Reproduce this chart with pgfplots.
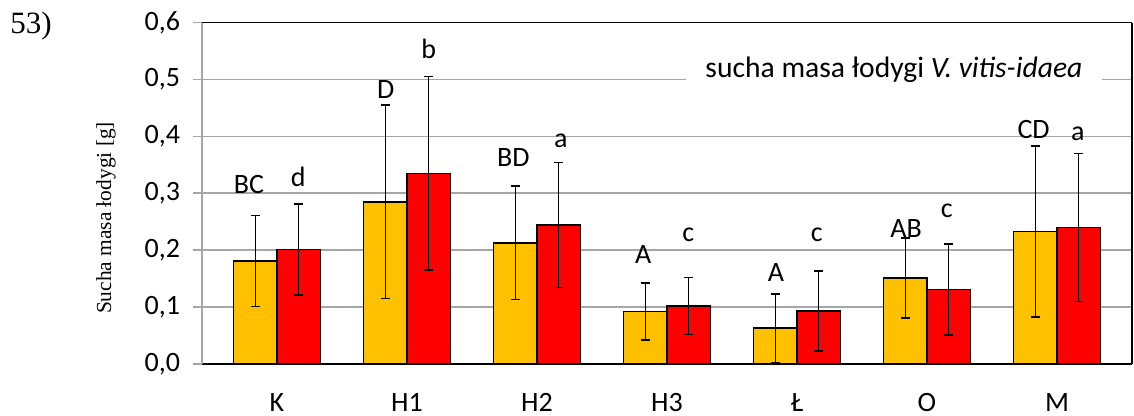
\documentclass[border=0pt]{standalone}
\usepackage{pgfplots}
\pgfplotsset{compat=1.18}
\usepackage{pgfplotstable}
\usepackage{fontspec}
\setmainfont{Carlito}
\newfontfamily\timesf{Liberation Serif}
\definecolor{barorange}{HTML}{FFC000}
\definecolor{barred}{HTML}{FF0000}
\definecolor{gridgray}{HTML}{A6A6A6}
\pgfplotstableread{
x y e
0 0.181 0.080
1 0.285 0.170
2 0.213 0.100
3 0.092 0.050
4 0.063 0.060
5 0.151 0.070
6 0.233 0.150
}\orange
\pgfplotstableread{
x y e
0 0.201 0.080
1 0.335 0.170
2 0.244 0.110
3 0.102 0.050
4 0.093 0.070
5 0.131 0.080
6 0.240 0.130
}\red
\begin{document}
\begin{tikzpicture}
\useasboundingbox (-101pt,-26pt) rectangle (466pt,182pt);
\begin{axis}[
  scale only axis,
  width=465pt, height=170.7pt,
  xmin=-0.577, xmax=6.577,
  ymin=0, ymax=0.6,
  ytick={0,0.1,0.2,0.3,0.4,0.5,0.6},
  xtick={0,1,2,3,4,5,6},
  xticklabels={K,H1,H2,H3,Ł,O,M},
  axis x line=box,
  axis y line=left,
  x axis line style={black, line width=0.8pt},
  y axis line style={-, gridgray, line width=1.2pt},
  xtick style={draw=none},
  ytick style={gridgray, line width=0.8pt},
  tick align=outside,
  major tick length=4.5pt,
  ymajorgrids,
  grid style={gridgray, line width=0.8pt},
  /pgf/number format/.cd, fixed, fixed zerofill, precision=1, use comma, assume math mode=true,
  /pgfplots/.cd,
  ticklabel style={font=\fontsize{14}{16}\selectfont, black},
  yticklabel style={xshift=-3pt},
  xticklabel style={yshift=-6.5pt},
  ybar, bar width=0.333,
  error bars/error bar style={black, line width=0.75pt},
  error bars/error mark options={rotate=90, mark size=2.3pt, black, line width=0.75pt},
  after end axis/.code={\draw[black, line width=0.8pt] (rel axis cs:1,0) -- (rel axis cs:1,1);},
]
\addplot[fill=barorange, draw=black, line width=0.8pt, bar shift=-0.1667,
  error bars/.cd, y dir=both, y explicit]
  table[x=x, y=y, y error=e] {\orange};
\addplot[fill=barred, draw=black, line width=0.8pt, bar shift=0.1667,
  error bars/.cd, y dir=both, y explicit]
  table[x=x, y=y, y error=e] {\red};
\begin{scope}[every node/.style={anchor=base, font=\fontsize{14}{16}\selectfont}]
\node at (axis cs:-0.215,0.300) {BC};
\node at (axis cs:0.164,0.312) {d};
\node at (axis cs:0.836,0.467) {D};
\node at (axis cs:1.167,0.537) {b};
\node at (axis cs:1.818,0.347) {BD};
\node at (axis cs:2.184,0.381) {a};
\node at (axis cs:2.818,0.177) {A};
\node at (axis cs:3.164,0.216) {c};
\node at (axis cs:3.838,0.145) {A};
\node at (axis cs:4.152,0.216) {c};
\node at (axis cs:4.840,0.223) {AB};
\node at (axis cs:5.153,0.257) {c};
\node at (axis cs:5.820,0.396) {CD};
\node at (axis cs:6.160,0.393) {a};
\end{scope}
\node[anchor=base, fill=white, inner xsep=10pt, inner ysep=3pt, font=\fontsize{14.8}{16}\selectfont]
  at (axis cs:4.746,0.504) {sucha masa łodygi \textit{V. vitis-idaea}};
\end{axis}
\node[rotate=90, font=\timesf\fontsize{10.7}{12}\selectfont] at (-48pt,73pt) {Sucha masa łodygi [g]};
\node[font=\timesf\fontsize{15.5}{18}\selectfont] at (-85.5pt,169pt) {53)};
\end{tikzpicture}
\end{document}
